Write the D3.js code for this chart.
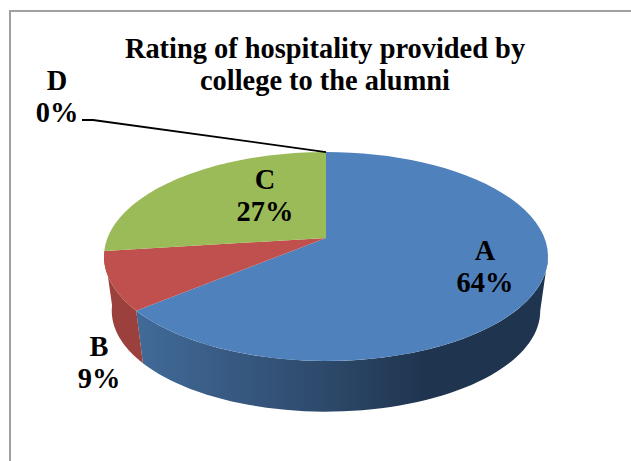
<!DOCTYPE html>
<html>
<head>
<meta charset="utf-8">
<script src="https://cdn.jsdelivr.net/npm/d3@7"></script>
<style>
  html, body { margin: 0; padding: 0; background: #fff; }
  svg { display: block; }
  text { font-family: "Liberation Serif", serif; font-weight: bold; fill: #000; }
</style>
</head>
<body>
<div id="chart"></div>
<script>
const categories = ['A', 'B', 'C', 'D']
const values = [64, 9, 27, 0]
const titleLines = ['Rating of hospitality provided by', 'college to the alumni']

const width = 631
const height = 461

// Top colour and side colour of each slice
const topColors = ['#4f81bd', '#c0504d', '#9bbb59', '#8064a2']
const sideColors = ['url(#blueSide)', '#9c403d', '#7d9a45', '#8064a2']

// Label anchors, by category
const labelPos = { A: [485, 260], B: [99, 356], C: [265, 189], D: [57, 90] }

const svg = d3.select('#chart').append('svg').attr('width', width).attr('height', height)

// Gradient on the blue wall
const grad = svg
  .append('defs')
  .append('linearGradient')
  .attr('id', 'blueSide')
  .attr('gradientUnits', 'userSpaceOnUse')
  .attr('x1', 140)
  .attr('x2', 540)
  .attr('y1', 0)
  .attr('y2', 0)
grad.append('stop').attr('offset', '0%').attr('stop-color', '#416a98')
grad.append('stop').attr('offset', '45%').attr('stop-color', '#2e4a6c')
grad.append('stop').attr('offset', '72%').attr('stop-color', '#1f344e')
grad.append('stop').attr('offset', '100%').attr('stop-color', '#1f344e')

// Chart frame, open at the bottom and right like the cropped original
svg
  .append('path')
  .attr('d', d3.line()([[10, height], [10, 11], [width, 11]]))
  .attr('fill', 'none')
  .attr('stroke', '#a0a0a0')
  .attr('stroke-width', 2)

// Tilted disc with perspective: angle 0 is at the top, going clockwise
const cx = 326
const cy = 238
const rx = 218.5
const ry = 101.2
const k = 0.177
const depth = 55
const bottomScale = 0.965

const project = (a, s = 1, dy = 0) => {
  const u = Math.sin(a)
  const v = -Math.cos(a)
  const w = 1 - k * v
  return [cx + (s * rx * u) / w, cy + dy + (s * ry * v) / w]
}

const pie = d3.pie().sort(null).startAngle(0).endAngle(2 * Math.PI)
const arcs = pie(values).map((d, i) => ({ ...d, name: categories[i], i }))

const line = d3.line()
const rim = (a0, a1, s, dy) => d3.range(0, 61).map((j) => project(a0 + ((a1 - a0) * j) / 60, s, dy))

// Walls: only the slices on the front of the pie show one
// lo is the angle where the projected rim is furthest right
const lo = Math.acos(-k)
svg
  .selectAll('path.side')
  .data(arcs.filter((d) => d.name === 'A' || d.name === 'B'))
  .join('path')
  .attr('class', 'side')
  .attr('fill', (d) => sideColors[d.i])
  .attr('d', (d) => {
    const a0 = Math.max(d.startAngle, lo)
    return line(rim(a0, d.endAngle, 1, 0).concat(rim(a0, d.endAngle, bottomScale, depth).reverse())) + 'Z'
  })

// Top faces
svg
  .selectAll('path.top')
  .data(arcs.filter((d) => d.value > 0))
  .join('path')
  .attr('class', 'top')
  .attr('fill', (d) => topColors[d.i])
  .attr('d', (d) => line([[cx, cy]].concat(rim(d.startAngle, d.endAngle, 1, 0))) + 'Z')

// Title
svg
  .selectAll('text.title')
  .data(titleLines)
  .join('text')
  .attr('class', 'title')
  .attr('x', 325)
  .attr('y', (d, i) => 58 + i * 32)
  .attr('text-anchor', 'middle')
  .style('font-size', '28.4px')
  .text((d) => d)

// Slice labels
const labels = svg
  .selectAll('g.label')
  .data(arcs)
  .join('g')
  .attr('class', 'label')
  .attr('transform', (d) => `translate(${labelPos[d.name]})`)
  .attr('text-anchor', 'middle')
  .style('font-size', '28.4px')
labels.append('text').text((d) => d.name)
labels
  .append('text')
  .attr('y', 32)
  .text((d) => Math.round((d.value / d3.sum(values)) * 100) + '%')

// Leader line from D to the top of the pie
svg
  .append('path')
  .attr('d', d3.line()([[82, 120], [93, 120], project(0)]))
  .attr('fill', 'none')
  .attr('stroke', '#000')
  .attr('stroke-width', 1.8)
</script>
</body>
</html>
